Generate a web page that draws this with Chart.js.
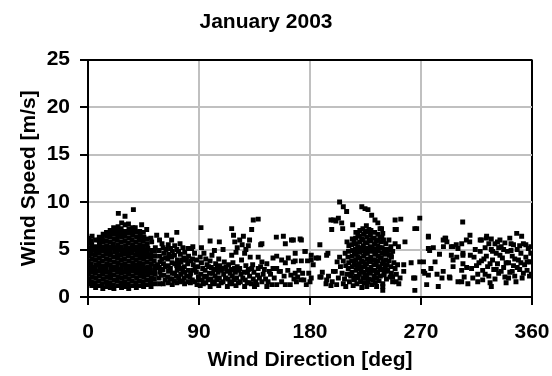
<!DOCTYPE html>
<html lang="en">
<head>
  <meta charset="UTF-8" />
  <title>January 2003</title>
  <script src="https://cdn.jsdelivr.net/npm/chart.js"></script>
  <style>
    body { margin: 0; background: #fff; }
    #wrap { width: 552px; height: 376px; position: relative; }
  </style>
</head>
<body>
  <div id="wrap"><canvas id="chart"></canvas></div>
  <script>
    // [wind direction deg, wind speed m/s]
    const north = [
      [0.4,1.4],[0.8,1.9],[0.3,2.4],[0.9,2.9],[0.5,3.3],[0.2,3.8],[0.8,4.3],[0.4,4.8],[0.9,5.2],[0.3,5.7],[0.7,6.2],
      [3.1,1.2],[2.7,1.6],[3.3,2.1],[2.9,2.6],[3.4,3.1],[2.6,3.5],[3.2,4.0],[2.8,4.5],[3.5,5.0],[3.0,5.5],[2.7,5.9],[3.3,6.4],
      [6.2,1.0],[5.8,1.5],[6.4,2.0],[6.0,2.5],[5.7,2.9],[6.3,3.4],[6.1,3.9],[5.9,4.4],[6.5,4.8],[6.0,5.3],[6.2,6.0],
      [9.1,1.2],[8.7,1.7],[9.3,2.2],[8.9,2.7],[9.4,3.2],[8.8,3.6],[9.2,4.1],[9.0,4.6],[8.6,5.1],[9.3,5.6],[8.9,6.0],[9.2,6.3],
      [12.0,0.9],[11.6,1.4],[12.3,1.9],[11.8,2.4],[12.4,2.8],[12.0,3.3],[11.7,3.8],[12.2,4.3],[11.9,4.8],[12.5,5.3],[12.1,5.8],[11.7,6.2],[12.3,6.6],
      [15.2,1.1],[14.8,1.6],[15.4,2.1],[15.0,2.6],[14.7,3.0],[15.3,3.5],[15.0,4.0],[14.6,4.5],[15.4,4.9],[15.1,5.4],[14.8,5.9],[15.3,6.4],[15.0,6.8],
      [18.1,1.0],[17.7,1.5],[18.3,2.0],[17.9,2.4],[18.4,2.9],[18.0,3.4],[17.6,3.9],[18.2,4.4],[17.9,4.8],[18.5,5.3],[18.0,5.8],[17.8,6.3],[18.3,6.7],[18.0,7.0],
      [21.0,0.9],[20.6,1.3],[21.3,1.8],[20.9,2.3],[21.4,2.8],[20.7,3.2],[21.2,3.7],[20.8,4.2],[21.5,4.7],[21.0,5.2],[20.6,5.6],[21.3,6.1],[20.9,6.6],[21.2,7.0],[20.8,7.3],
      [24.1,1.2],[23.7,1.7],[24.4,2.1],[24.0,2.6],[23.6,3.1],[24.3,3.6],[24.0,4.1],[23.8,4.5],[24.5,5.0],[24.1,5.5],[23.7,6.0],[24.2,6.4],[23.9,6.9],[24.4,7.4],[24.6,8.8],
      [27.2,1.0],[26.8,1.5],[27.4,2.0],[27.0,2.5],[26.7,2.9],[27.3,3.4],[27.0,3.9],[26.6,4.4],[27.5,4.8],[27.1,5.3],[26.8,5.8],[27.4,6.3],[27.0,6.7],[26.9,7.2],[27.3,7.8],
      [30.1,1.1],[29.7,1.6],[30.3,2.1],[29.9,2.6],[30.4,3.0],[30.0,3.5],[29.6,4.0],[30.2,4.5],[29.9,4.9],[30.5,5.4],[30.0,5.9],[29.8,6.4],[30.3,6.9],[30.1,7.6],[30.0,8.5],
      [33.0,0.9],[32.6,1.4],[33.3,1.9],[32.9,2.4],[33.4,2.8],[32.8,3.3],[33.2,3.8],[32.7,4.3],[33.5,4.7],[33.0,5.2],[32.6,5.7],[33.3,6.2],[32.9,6.7],[33.2,7.2],[32.8,7.7],
      [36.1,1.2],[35.7,1.7],[36.4,2.2],[36.0,2.7],[35.6,3.1],[36.3,3.6],[36.0,4.1],[35.8,4.6],[36.5,5.0],[36.1,5.5],[35.7,6.0],[36.2,6.5],[35.9,6.9],[36.3,7.3],[36.8,9.2],
      [39.2,1.0],[38.8,1.5],[39.4,2.0],[39.0,2.5],[38.7,2.9],[39.3,3.4],[39.0,3.9],[38.6,4.4],[39.5,4.8],[39.1,5.3],[38.8,5.8],[39.4,6.3],[38.9,6.8],[38.3,7.3],
      [42.0,1.2],[41.6,1.7],[42.3,2.2],[41.9,2.6],[42.4,3.1],[41.7,3.6],[42.2,4.1],[41.8,4.5],[42.5,5.0],[42.0,5.5],[41.6,6.0],[42.3,6.4],[41.9,6.9],[43.5,7.6],
      [45.1,1.1],[44.7,1.6],[45.3,2.1],[44.9,2.5],[45.4,3.0],[44.8,3.5],[45.2,4.0],[44.6,4.4],[45.5,4.9],[45.0,5.4],[44.7,5.9],[45.3,6.3],[44.9,6.8],
      [48.0,1.3],[47.6,1.8],[48.3,2.3],[47.9,2.7],[48.4,3.2],[47.8,3.7],[48.2,4.2],[47.7,4.6],[48.5,5.1],[48.0,5.6],[47.6,6.1],[47.6,7.1],
      [51.1,1.1],[50.7,1.6],[51.4,2.0],[51.0,2.5],[50.6,3.0],[51.3,3.5],[51.0,4.0],[50.8,4.4],[51.5,4.9],[51.6,5.8],[51.0,6.2],
      [54.2,1.4],[53.8,1.9],[54.4,2.4],[54.0,2.8],[54.5,3.3],[53.7,3.8],[54.1,4.3],[53.9,4.8],[54.6,5.2],[55.7,6.5]
    ];
    const northEast = [
      [58.0,1.4],[57.6,2.0],[58.3,2.6],[57.8,3.1],[58.4,3.7],[58.0,4.3],[57.7,4.9],[58.0,6.0],
      [61.0,1.4],[61.4,2.3],[60.8,2.9],[61.2,3.5],[61.5,4.6],[60.9,5.2],[63.8,6.5],
      [65.0,1.5],[64.6,2.1],[65.3,2.7],[65.0,3.3],[64.7,4.0],[65.4,4.5],[65.1,5.5],
      [68.3,1.3],[67.9,1.9],[68.5,2.5],[68.1,3.6],[67.8,4.2],[68.4,4.8],[67.8,6.0],
      [72.0,1.5],[71.6,2.2],[72.3,2.8],[71.9,3.3],[72.5,3.9],[72.0,5.0],[72.0,6.8],
      [74.6,1.6],[75.2,2.4],[74.8,3.0],[75.4,3.7],[74.9,4.5],[74.6,5.6],
      [78.3,1.4],[77.9,2.0],[78.5,2.6],[78.1,3.2],[77.7,4.1],[78.4,4.7],
      [82.7,2.1],[81.0,1.6],[81.4,2.8],[80.8,3.5],[81.0,5.1],[81.5,4.3],
      [85.0,2.8],[84.6,1.8],[85.3,3.4],[85.0,5.3],[84.7,4.0],[84.0,5.1],
      [88.0,3.9],[89.5,2.1],[88.4,1.3],[87.8,2.6],
      [56.5,3.4],[59.5,2.3],[59.8,4.0],[60.0,5.6],[62.5,1.8],[62.8,3.2],[63.0,4.1],[63.2,5.0],[66.5,1.9],[66.8,3.0],
      [66.6,4.3],[66.9,5.1],[70.0,1.7],[70.2,2.5],[70.4,3.5],[70.1,4.4],[70.3,5.4],[73.5,2.0],[73.7,3.5],[73.4,4.8],
      [76.6,1.7],[76.8,2.9],[76.5,3.9],[76.9,5.2],[80.0,2.2],[79.8,3.9],[83.0,1.5],[83.2,2.5],[83.4,3.8],[86.5,1.6],
      [86.8,3.1],[86.4,4.6],[89.0,3.2],[90.0,1.8]
    ];
    const east = [
      [91.6,7.3],[92.0,5.2],[99.0,5.9],[106.5,5.8],[116.5,7.2],[118.0,6.5],[126.0,6.4],[132.7,7.1],[134.0,8.1],[138.0,8.2],[131.0,6.0],
      [91.0,1.2],[92.5,1.8],[91.5,2.4],[93.0,3.0],[92.0,3.6],[91.0,4.2],[94.0,4.6],
      [95.5,1.5],[96.0,2.1],[95.0,2.8],[96.5,3.4],[95.5,4.0],
      [99.0,1.1],[99.5,1.9],[98.5,2.5],[100.0,3.1],[99.0,3.8],[100.5,4.4],
      [102.5,1.4],[103.0,2.2],[102.0,2.9],[103.5,3.5],[102.5,4.9],
      [106.0,1.2],[106.5,2.0],[105.5,2.6],[107.0,3.3],[106.0,4.0],
      [109.5,1.6],[110.0,2.4],[109.0,3.0],[110.5,3.7],[109.5,5.0],
      [113.0,1.1],[113.5,1.9],[112.5,2.7],[114.0,3.4],
      [116.5,1.4],[117.0,2.2],[116.0,2.9],[117.5,3.6],[116.5,4.4],
      [120.0,1.2],[120.5,2.0],[119.5,2.6],[121.0,3.2],[119.0,5.8],[121.0,5.2],[123.0,6.0],[120.0,4.7],
      [123.5,1.6],[124.0,2.4],[123.0,3.0],[124.5,3.9],[125.0,5.5],[128.0,5.0],[130.0,5.4],[127.0,4.6],
      [127.0,1.1],[127.5,1.8],[126.5,2.6],[128.0,3.3],
      [130.5,1.5],[131.0,2.2],[130.0,2.9],[131.5,4.2],
      [134.0,1.9],[134.5,2.6],[133.5,3.4],[135.0,1.1],
      [137.0,1.3],[137.5,2.3],[138.0,3.0],[138.0,4.2],
      [140.0,3.2],[142.0,2.4],[144.0,1.9],[141.0,3.7],[141.0,5.6],[140.0,5.5],[141.0,1.6],[145.0,1.1],[146.0,1.6],[145.0,3.5],
      [147.0,2.7],[148.0,2.4],[150.0,3.0],[150.0,4.1],[152.7,6.3],[153.0,3.0],[153.0,4.3],[153.0,1.3],[155.0,2.7],[156.0,2.7],
      [157.0,3.9],[158.4,6.4],[159.0,2.2],[160.0,3.6],[160.0,1.3],[160.0,5.6],[162.4,4.1],[164.0,1.3],[164.5,2.3],[165.0,6.0],
      [166.5,6.0],[166.5,3.7],[167.0,1.9],[168.0,2.5],[168.0,3.8],[168.0,4.6],[169.0,1.6],[170.0,2.1],[172.0,6.1],[173.0,3.8],
      [175.0,1.8],[176.0,4.8],[178.0,3.8],
      [93.5,1.4],[94.5,2.2],[97.5,1.8],[97.8,3.2],[101.0,1.6],[101.2,2.5],[104.5,1.8],[104.8,3.0],[108.0,1.5],[108.2,2.8],
      [111.5,2.0],[111.8,3.2],[115.0,1.6],[115.3,2.5],[118.5,1.8],[118.8,3.0],[122.0,1.5],[122.3,2.8],[125.5,2.0],[129.0,1.5],
      [129.3,2.6],[132.5,1.4],[132.8,3.0],[136.0,1.6],[139.0,2.0],[143.0,2.9],[149.0,1.3],[151.0,2.0],[157.0,1.6],[162.0,2.8],
      [171.0,2.8],[174.0,2.5],[177.0,1.3],[179.0,2.5]
    ];
    const southWest = [
      [173.0,6.0],[173.0,1.8],[176.0,4.8],[180.0,1.6],[181.0,3.9],[181.0,4.4],[181.0,2.0],[182.6,3.4],[185.0,4.1],[187.0,4.1],
      [188.0,5.5],[188.0,2.1],[189.0,2.1],[190.0,2.6],[193.0,1.4],[193.5,4.4],[193.5,1.8],[194.5,4.6],[195.0,2.2],[197.0,1.2],
      [198.0,1.6],[199.0,2.7],[200.5,2.7],[201.6,1.3],[202.0,3.7],[203.0,2.0],[204.0,4.2],[204.7,3.2],[206.0,2.5],[207.0,1.4],
      [208.0,1.9],[209.0,1.1],[210.0,2.4],
      [204.0,10.0],[207.0,9.5],[209.7,9.0],[222.0,9.5],[224.6,9.3],[227.0,9.2],[230.0,8.6],[232.7,8.1],[235.0,7.8],[236.8,7.2],
      [197.0,8.1],[199.0,8.1],[201.0,8.0],[203.0,8.3],[205.7,7.8],[214.6,7.6],[197.6,7.1],[206.5,7.2],
      [211.0,3.0],[211.4,3.6],[210.8,4.2],[211.2,4.8],[211.5,5.4],
      [214.0,2.6],[214.4,3.2],[213.8,3.8],[214.2,4.3],[214.5,4.9],[213.9,5.5],[214.3,6.1],
      [217.0,2.2],[217.4,2.8],[216.8,3.4],[217.2,3.9],[217.5,4.5],[216.9,5.0],[217.3,5.6],[217.0,6.2],[217.2,6.8],
      [220.0,2.4],[220.4,3.0],[219.8,3.5],[220.2,4.1],[220.5,4.7],[219.9,5.2],[220.3,5.8],[220.0,6.4],[220.4,7.0],
      [223.0,2.0],[223.4,2.6],[222.8,3.2],[223.2,3.7],[223.5,4.3],[222.9,4.9],[223.3,5.4],[223.0,6.0],[223.4,6.6],[222.9,7.2],
      [226.0,2.3],[226.4,2.9],[225.8,3.5],[226.2,4.0],[226.5,4.6],[225.9,5.1],[226.3,5.7],[226.0,6.3],[226.4,6.9],[225.7,7.5],
      [229.0,2.5],[229.4,3.1],[228.8,3.7],[229.2,4.2],[229.5,4.8],[228.9,5.3],[229.3,5.9],[229.0,6.5],[229.4,7.0],
      [232.0,2.2],[232.4,2.8],[231.8,3.4],[232.2,3.9],[232.5,4.5],[231.9,5.0],[232.3,5.6],[232.0,6.2],[232.4,6.8],
      [235.0,2.6],[235.4,3.2],[234.8,3.8],[235.2,4.3],[235.5,4.9],[234.9,5.4],[235.3,6.0],[235.0,6.6],
      [238.0,2.9],[238.4,3.5],[237.8,4.1],[238.2,4.6],[238.5,5.2],[237.9,5.8],[238.3,6.3],[239.0,6.7],[238.0,7.2],
      [241.0,3.3],[241.4,3.9],[240.8,4.5],[241.2,5.0],[241.5,5.6],
      [244.0,3.8],[244.4,4.4],[243.8,5.0],[244.0,6.0],
      [212.0,1.6],[213.0,2.2],[215.0,1.2],[216.0,1.8],[218.0,1.4],[219.0,2.0],[221.0,1.6],[222.0,1.0],[224.0,1.5],[225.0,2.0],
      [226.0,1.1],[227.0,1.6],[228.0,1.9],[230.0,1.3],[231.0,1.8],[233.0,1.5],[234.0,2.0],[234.0,1.1],[236.0,1.7],[237.0,2.2],
      [239.0,1.4],[239.0,0.7],[239.0,1.1],[240.0,2.5],[240.0,2.3],[241.0,3.0],[242.0,1.9],[242.0,2.7],[243.0,2.8],[245.0,2.1],
      [246.0,2.5],[247.0,1.6],[247.0,2.1],[249.0,3.0],[249.8,1.6],[250.0,2.4],[252.0,1.4],[248.0,3.6],[246.0,4.2],[247.0,4.8],
      [251.0,3.4],[253.0,2.0],[249.0,8.1],[253.6,8.2],[249.0,7.1],[250.0,7.1],[249.0,5.6],[251.7,5.3],[257.0,5.8],[256.0,3.4],
      [256.0,2.7],
      [207.0,3.8],[208.5,4.6],[209.0,3.3],[210.0,5.8],[212.5,2.4],[215.5,2.0],[215.8,3.6],[216.0,4.7],[215.7,5.8],[218.5,3.1],
      [218.7,4.2],[218.6,5.3],[218.8,6.5],[221.5,2.7],[221.8,3.8],[221.6,5.0],[221.9,6.1],[224.5,2.3],[224.8,3.4],[224.6,4.6],
      [224.9,5.7],[224.7,6.8],[227.5,2.6],[227.8,3.8],[227.6,4.9],[227.9,6.0],[227.7,7.1],[230.5,2.8],[230.8,3.9],[230.6,5.1],
      [230.9,6.2],[233.5,2.5],[233.8,3.6],[233.6,4.7],[233.9,5.9],[236.5,3.0],[236.8,4.1],[236.6,5.2],[236.9,6.3],[239.5,3.7],
      [239.8,4.9],[239.6,6.0],[242.5,3.4],[242.8,4.7],[245.5,3.2],[245.8,4.4],[245.5,5.3]
    ];
    const west = [
      [265.0,7.2],[266.5,7.2],[269.0,8.3],[276.0,6.4],[276.0,6.3],[276.0,5.1],[277.0,4.9],[288.0,6.0],[289.5,6.2],[290.0,6.2],
      [291.0,5.8],[288.2,5.3],[269.0,3.7],[272.0,3.7],[281.4,3.7],[272.0,2.7],[276.0,2.3],[288.0,2.7],[287.0,2.0],[265.0,2.0],
      [264.0,2.0],[273.0,2.5],[274.6,1.3],[284.0,1.1],[265.0,0.7],[293.5,2.0],[296.0,3.9],
      [303.8,7.9],[306.8,6.0],[309.5,5.8],[309.7,6.5],[303.0,5.6],[296.0,5.3],[300.0,5.1],[294.6,5.3],[298.6,5.5],[304.0,4.6],
      [304.0,4.4],[304.0,3.5],[303.0,2.8],[305.0,2.1],[294.6,4.4],[296.0,3.2],[293.0,2.1],[300.0,1.6],[303.0,1.6],[308.0,1.4],
      [316.0,1.6],[320.0,1.8],[327.0,1.1],
      [318.0,6.0],[319.0,6.0],[323.2,6.4],[323.0,6.2],[327.0,6.1],[332.0,5.8],[342.0,6.2],[347.6,6.7],[351.6,6.4],
      [313.0,4.2],[315.0,3.3],[316.0,2.4],[318.0,4.8],[319.0,3.8],[320.0,2.8],[322.0,5.2],[323.0,4.3],[324.0,3.2],[325.0,2.2],
      [327.0,5.0],[328.0,3.9],[329.0,2.9],[330.0,1.9],[331.0,4.6],[332.0,3.5],[333.0,2.5],[335.0,5.3],[336.0,4.1],[337.0,3.1],
      [338.0,2.1],[339.0,1.5],[340.0,4.8],[341.0,3.6],[342.0,2.6],[343.0,5.6],[344.0,4.3],[345.0,3.3],[346.0,2.2],[347.0,1.6],
      [348.0,5.0],[349.0,3.9],[350.0,2.9],[351.0,4.6],[352.0,2.0],[353.0,5.6],[354.0,3.4],[355.0,4.2],[356.0,2.8],[357.0,5.1],
      [358.0,3.7],[359.0,4.6],[359.5,2.4],[334.0,6.0],[338.0,5.7],[312.0,2.0],[326.0,1.5],[358.6,3.7],
      [311.0,3.0],[314.0,5.0],[317.0,3.6],[321.0,4.0],[322.0,2.4],[326.0,3.5],[328.0,4.8],[330.0,5.6],[331.0,2.9],[334.0,4.4],
      [335.0,2.7],[337.0,5.0],[339.0,3.6],[341.0,2.0],[343.0,4.9],[344.0,2.7],[346.0,4.0],[348.0,3.1],[350.0,5.4],[351.0,3.6],
      [353.0,2.5],[355.0,5.5],[356.0,3.7],[358.0,2.2],[359.0,5.3],[345.0,5.5],[333.0,5.2],[325.0,5.6],[310.0,4.4],[307.0,3.1],
      [299.0,4.2],[285.0,4.5],[280.0,5.2],[278.0,3.0],[283.0,2.4],[262.0,3.6]
    ];
    const dirTicks = [0, 90, 180, 270, 360];
    const speedTicks = [0, 5, 10, 15, 20, 25];

    const points = [...north, ...northEast, ...east, ...southWest, ...west].map(([d, s]) => ({ x: d, y: s }));

    const font = { family: "'Liberation Sans', Arial, sans-serif", size: 21, weight: "bold" };
    const gridGrey = "#c0c0c0";

    new Chart(document.getElementById("chart"), {
      type: "scatter",
      data: {
        datasets: [{
          data: points,
          pointStyle: "rect",
          pointRadius: 3.5,
          pointBorderWidth: 0,
          backgroundColor: "#000",
          borderColor: "#000"
        }]
      },
      options: {
        responsive: true,
        maintainAspectRatio: false,
        animation: false,
        layout: { padding: { left: 0, right: 20, top: 0, bottom: 0 } },
        plugins: {
          legend: { display: false },
          tooltip: { enabled: false },
          title: {
            display: true,
            text: "January 2003",
            color: "#000",
            font: font,
            padding: { top: 10, bottom: 24.3 }
          }
        },
        scales: {
          x: {
            type: "linear",
            min: 0,
            max: 360,
            afterBuildTicks: s => { s.ticks = dirTicks.map(v => ({ value: v })); },
            // the last label may hang over the frame, as in the picture
            afterFit: s => { s.height = 79; s.paddingRight = 0; s.paddingLeft = 0; },
            grid: {
              color: c => (c.tick && c.tick.value === 360 ? "#000" : gridGrey),
              lineWidth: 2,
              tickColor: "#000",
              tickLength: 8
            },
            border: { color: "#000", width: 2 },
            ticks: { color: "#000", font: font, padding: 15, maxRotation: 0 },
            title: {
              display: true,
              text: "Wind Direction [deg]",
              color: "#000",
              font: font,
              padding: { top: 0, bottom: 3 }
            }
          },
          y: {
            type: "linear",
            min: 0,
            max: 25,
            afterBuildTicks: s => { s.ticks = speedTicks.map(v => ({ value: v })); },
            afterFit: s => { s.width = 88; },
            grid: {
              color: c => (c.tick && c.tick.value === 25 ? "#000" : gridGrey),
              lineWidth: 2,
              tickColor: "#000",
              tickLength: 8
            },
            border: { color: "#000", width: 2 },
            ticks: { color: "#000", font: font, padding: 10 },
            title: {
              display: true,
              text: "Wind Speed [m/s]",
              color: "#000",
              font: font,
              padding: { top: 17, bottom: 0 }
            }
          }
        }
      }
    });
  </script>
</body>
</html>
